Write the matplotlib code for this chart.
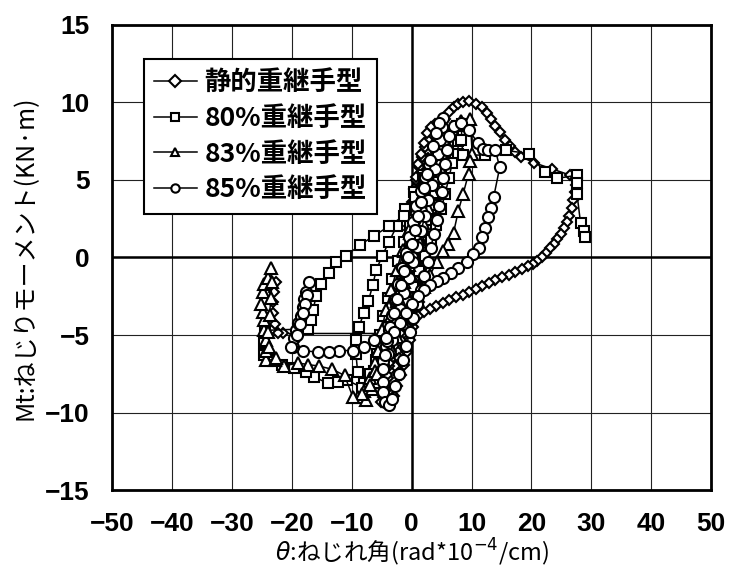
import numpy as np
import matplotlib
matplotlib.use('Agg')
import matplotlib.pyplot as plt

plt.rcParams['font.family'] = ['Noto Sans CJK JP', 'DejaVu Sans']
plt.rcParams['mathtext.fontset'] = 'dejavusans'

# 凡例ラベル
labels = ['静的重継手型', '80%重継手型', '83%重継手型', '85%重継手型']

# 静的重継手型 (θ, Mt)
static_pts = [
    (0, 0), (0.4, 0.8), (0.8, 1.6), (1.2, 2.4), (1.5, 3.2), (1.8, 4.0), (2.1, 4.8), (2.4, 5.6), (2.7, 6.4),
    (2.2, 6.0), (1.7, 5.4), (1.2, 4.7), (0.8, 3.9), (0.4, 3.1), (0.1, 2.3), (-0.2, 1.5), (-0.5, 0.7),
    (-0.8, -0.1), (-1.1, -0.9), (-1.4, -1.7), (-1.7, -2.5), (-2.0, -3.3), (-2.3, -4.1), (-2.6, -4.9),
    (-2.9, -5.7), (-3.2, -6.5), (-3.5, -7.2),
    (-2.8, -7.0), (-2.1, -6.5), (-1.5, -5.8), (-0.9, -5.0), (-0.4, -4.2), (0.1, -3.4), (0.6, -2.6),
    (1.0, -1.8), (1.4, -1.0), (1.7, -0.2), (2.0, 0.6), (2.3, 1.4), (2.5, 2.2), (2.7, 3.0), (2.9, 3.8),
    (3.1, 4.6), (3.3, 5.4), (3.5, 6.2), (3.7, 7.0), (4.0, 7.8),
    (3.4, 7.9), (2.8, 7.6), (2.2, 7.1), (1.7, 6.5), (1.2, 5.8), (0.8, 5.0), (0.5, 4.2), (0.2, 3.4),
    (-0.1, 2.6), (-0.4, 1.8), (-0.7, 1.0), (-1.0, 0.2), (-1.3, -0.6), (-1.6, -1.4), (-1.9, -2.2),
    (-2.2, -3.0), (-2.5, -3.8), (-2.8, -4.6), (-3.1, -5.4), (-3.4, -6.2), (-3.7, -7.0), (-4.0, -7.8),
    (-4.3, -8.5), (-4.6, -9.0),
    (-3.9, -9.1), (-3.2, -8.8), (-2.6, -8.2), (-2.0, -7.5), (-1.4, -6.8), (-0.9, -6.0), (-0.4, -5.2),
    (0.1, -4.4), (0.6, -3.6), (1.0, -2.8), (1.4, -2.0), (1.8, -1.2), (2.1, -0.4), (2.4, 0.4), (2.6, 1.2),
    (2.8, 2.0), (3.0, 2.8), (3.2, 3.6), (3.4, 4.4), (3.6, 5.2), (3.8, 6.0), (4.0, 6.8), (4.3, 7.6), (4.6, 8.3),
    (3.9, 8.6), (3.2, 8.4), (2.6, 8.0), (2.0, 7.4), (1.5, 6.7), (1.1, 6.0), (0.7, 5.2), (0.4, 4.4),
    (0.1, 3.6), (-0.2, 2.8), (-0.5, 2.0), (-0.8, 1.2), (-1.1, 0.4), (-1.4, -0.4), (-1.7, -1.2),
    (-2.0, -2.0), (-2.3, -2.8), (-2.6, -3.6), (-2.9, -4.4), (-3.2, -5.2), (-3.5, -6.0), (-3.8, -6.8),
    (-4.1, -7.6), (-4.4, -8.3), (-4.8, -9.0), (-5.1, -9.3),
    (-4.4, -9.4), (-3.7, -9.3), (-3.0, -8.9), (-2.4, -8.3), (-1.8, -7.6), (-1.2, -6.9), (-0.7, -6.1),
    (-0.2, -5.3), (0.3, -4.5), (0.8, -3.7), (1.2, -2.9), (1.6, -2.1), (2.0, -1.3), (2.3, -0.5), (2.6, 0.3),
    (2.9, 1.1), (3.1, 1.9), (3.3, 2.7), (3.5, 3.5), (3.7, 4.3), (3.9, 5.1), (4.1, 5.9), (4.3, 6.7),
    (4.6, 7.5), (5.0, 8.3), (5.5, 8.9), (6.2, 9.4), (7.0, 9.7), (7.8, 9.9), (8.6, 10.0), (9.5, 10.1),
    (10.7, 9.9), (11.8, 9.7), (12.6, 9.3), (13.3, 8.9), (14.0, 8.5), (14.8, 8.1), (15.6, 7.6), (16.4, 7.2),
    (17.3, 6.8), (18.2, 6.5), (20.5, 6.1), (23.5, 5.7), (26.5, 5.3), (27.5, 5.1),
    (27.4, 4.7), (27.2, 4.2), (27.0, 3.7), (26.7, 3.2), (26.3, 2.7), (25.9, 2.3), (25.4, 1.9), (24.9, 1.5),
    (24.3, 1.2), (23.7, 0.9), (23.1, 0.6), (22.4, 0.3), (21.7, 0.0), (21.0, -0.2), (20.3, -0.4),
    (19.5, -0.55), (18.4, -0.73), (17.3, -0.92), (16.2, -1.1), (15.1, -1.28), (14.0, -1.47), (12.9, -1.65),
    (11.8, -1.83), (10.7, -2.02), (9.6, -2.2), (8.5, -2.39), (7.4, -2.57), (6.3, -2.75), (5.2, -2.94),
    (4.1, -3.12), (3.0, -3.31), (2.0, -3.5), (1.1, -3.8), (0.2, -4.1), (-0.8, -4.5), (-1.9, -4.9),
    (-21.5, -4.9), (-22.3, -4.9), (-22.8, -4.3), (-23.1, -3.6), (-23.1, -2.9), (-23.0, -2.2), (-22.7, -1.6),
]

# 80%重継手型
r80_pts = [
    (0, 0), (1.0, 1.5), (2.0, 3.0), (3.0, 4.3), (4.0, 5.5), (5.0, 6.5),
    (4.3, 5.6), (3.6, 4.6), (2.8, 3.5), (2.0, 2.4), (1.2, 1.3), (0.4, 0.2), (-0.5, -0.9), (-1.4, -2.0),
    (-2.4, -3.1), (-3.4, -4.2), (-4.4, -5.3), (-5.4, -6.4), (-6.3, -7.3),
    (-5.8, -6.2), (-5.3, -5.0), (-4.7, -3.8), (-4.0, -2.6), (-3.2, -1.4), (-2.3, -0.2), (-1.3, 1.0),
    (-0.2, 2.2), (0.9, 3.4), (2.0, 4.6), (3.1, 5.7), (4.2, 6.7), (5.3, 7.5), (6.3, 8.1),
    (6.0, 7.3), (5.5, 6.4), (4.9, 5.4), (4.2, 4.4), (3.5, 3.4), (2.7, 2.4), (1.8, 1.4), (0.9, 0.4),
    (0.0, -0.6), (-1.0, -1.6), (-2.0, -2.6), (-3.0, -3.6), (-4.0, -4.6), (-5.0, -5.6), (-6.0, -6.6),
    (-7.0, -7.5), (-8.0, -8.1),
    (-9.0, -7.4), (-9.3, -6.2), (-9.3, -5.3), (-8.8, -4.5), (-8.0, -3.6), (-7.2, -2.8), (-6.5, -1.8),
    (-5.9, -0.8), (-4.9, 0.1), (-3.8, 1.0), (-2.5, 2.0), (-1.1, 3.1), (0.4, 4.2), (1.9, 5.3), (3.4, 6.3),
    (4.9, 7.3), (6.3, 8.0), (7.6, 8.5),
    (7.8, 7.5), (7.7, 6.7), (6.8, 6.1), (6.2, 5.1), (5.6, 4.1), (4.9, 3.1), (4.1, 2.1), (3.2, 1.1),
    (2.3, 0.1), (1.3, -0.9), (0.3, -1.9), (-0.7, -2.9), (-1.7, -3.9), (-2.7, -4.9), (-3.7, -5.9),
    (-4.7, -6.8), (-5.8, -7.6), (-7.0, -8.2), (-8.2, -8.4),
    (-10.8, -7.9), (-12.3, -8.0), (-14.0, -8.1), (-16.3, -7.7), (-17.7, -7.4), (-19.7, -7.1),
    (-21.7, -6.9), (-23.3, -6.6), (-24.6, -6.3), (-24.7, -5.5), (-24.5, -4.7),
    (-17.3, -4.6), (-16.8, -4.0), (-16.5, -3.4), (-15.9, -2.5), (-15.2, -1.7), (-13.8, -1.0),
    (-12.7, -0.3), (-11.0, 0.1), (-8.6, 0.8), (-6.3, 1.4), (-3.8, 2.0), (-1.3, 2.7), (0.5, 3.9),
    (2.2, 5.1), (3.8, 6.2), (5.4, 7.2), (6.9, 8.0), (8.4, 8.6), (8.3, 7.6), (8.6, 6.6),
    (12.3, 6.6), (15.7, 6.9), (19.6, 6.7), (22.2, 5.5), (24.3, 5.1), (27.6, 5.3), (27.6, 4.8),
    (27.6, 4.1), (28.2, 2.2), (28.7, 1.7), (29.0, 1.3),
]

# 83%重継手型
r83_pts = [
    (0, 0), (1.0, 1.5), (2.0, 3.0), (3.0, 4.5), (4.0, 5.8), (5.0, 7.0),
    (4.3, 6.1), (3.5, 5.0), (2.7, 3.9), (1.9, 2.8), (1.1, 1.7), (0.3, 0.6), (-0.5, -0.5), (-1.3, -1.6),
    (-2.1, -2.7), (-2.9, -3.8), (-3.7, -4.9), (-4.5, -6.0), (-5.3, -7.1), (-6.0, -8.0),
    (-5.5, -6.8), (-5.0, -5.6), (-4.4, -4.4), (-3.7, -3.2), (-3.0, -2.0), (-2.2, -0.8), (-1.3, 0.4),
    (-0.3, 1.6), (0.7, 2.8), (1.7, 4.0), (2.7, 5.2), (3.7, 6.3), (4.7, 7.3), (5.7, 8.1),
    (5.3, 7.2), (4.8, 6.2), (4.2, 5.2), (3.5, 4.2), (2.7, 3.2), (1.9, 2.2), (1.1, 1.2), (0.2, 0.2),
    (-0.7, -0.8), (-1.6, -1.8), (-2.5, -2.8), (-3.4, -3.8), (-4.3, -4.8), (-5.2, -5.8), (-6.1, -6.8),
    (-7.0, -7.8), (-7.9, -8.6), (-9.0, -9.0),
    (-7.6, -9.2), (-6.6, -8.5), (-6.1, -7.3), (-5.6, -6.0), (-5.0, -4.7), (-4.3, -3.4), (-3.4, -2.1),
    (-2.5, -0.8), (-1.5, 0.5), (-0.4, 1.8), (0.8, 3.1), (2.0, 4.4), (3.2, 5.6), (4.4, 6.7), (5.6, 7.6),
    (6.8, 8.3), (8.2, 8.8), (9.8, 8.9),
    (10.1, 6.7), (9.8, 6.2), (9.5, 5.4), (8.6, 4.1), (7.8, 3.0), (7.0, 1.6), (6.1, 0.9), (5.2, 0.4),
    (4.2, -0.3), (3.1, -1.1), (2.0, -1.9), (0.9, -2.7), (-0.2, -3.5), (-1.3, -4.3), (-2.4, -5.1),
    (-3.5, -5.9), (-4.6, -6.7), (-5.8, -7.5), (-7.0, -8.2), (-8.3, -8.8), (-9.8, -9.0),
    (-11.2, -7.6), (-13.3, -7.2), (-15.5, -7.0), (-17.3, -6.9), (-19.0, -6.8), (-21.3, -7.0),
    (-22.8, -6.6), (-24.3, -6.6), (-24.3, -6.0), (-24.3, -5.3), (-24.7, -4.7), (-24.7, -4.0),
    (-24.8, -3.5), (-25.2, -3.0), (-24.8, -2.2), (-24.7, -1.7), (-24.0, -1.3), (-23.5, -0.7),
    (-23.3, -1.6), (-23.5, -2.6), (-23.7, -3.7), (-23.9, -4.8), (-23.8, -5.8), (-22.7, -6.5),
]

# 85%重継手型
r85_pts = [
    (0, 0), (0.8, 1.5), (1.5, 3.0), (2.2, 4.5), (2.9, 6.0),
    (2.2, 5.2), (1.5, 4.3), (0.8, 3.3), (0.2, 2.3), (-0.4, 1.3), (-1.0, 0.3), (-1.6, -0.7), (-2.2, -1.7),
    (-2.8, -2.7), (-3.3, -3.7), (-3.8, -4.7), (-4.3, -5.7), (-4.7, -6.7),
    (-4.0, -6.2), (-3.3, -5.3), (-2.6, -4.3), (-1.9, -3.3), (-1.2, -2.3), (-0.5, -1.3), (0.2, -0.3),
    (0.9, 0.7), (1.6, 1.7), (2.2, 2.7), (2.8, 3.7), (3.4, 4.7), (3.9, 5.7), (4.4, 6.7), (4.8, 7.6),
    (5.1, 8.4), (5.3, 9.0),
    (4.6, 8.7), (4.0, 8.0), (3.5, 7.2), (3.0, 6.3), (2.5, 5.4), (2.0, 4.5), (1.5, 3.6), (1.0, 2.7),
    (0.5, 1.8), (0.0, 0.9), (-0.6, 0.0), (-1.2, -0.9), (-1.8, -1.8), (-2.4, -2.7), (-3.0, -3.6),
    (-3.6, -4.5), (-4.1, -5.4), (-4.5, -6.3), (-4.7, -7.2), (-4.8, -8.0), (-4.8, -8.7), (-4.5, -9.3),
    (-3.8, -9.5),
    (-3.2, -9.1), (-2.7, -8.3), (-2.1, -7.5), (-1.5, -6.6), (-0.9, -5.7), (-0.3, -4.8), (0.3, -3.9),
    (0.9, -3.0), (1.5, -2.1), (2.1, -1.2), (2.7, -0.3), (3.2, 0.6), (3.7, 1.5), (4.2, 2.4), (4.6, 3.3),
    (5.0, 4.2), (5.3, 5.1), (5.6, 6.0), (5.9, 6.9), (6.3, 7.8), (7.0, 8.5), (8.2, 8.7),
    (9.6, 8.2), (11.0, 7.4), (11.9, 7.0), (12.8, 6.9), (14.0, 6.9), (14.7, 5.8), (13.7, 3.9), (13.2, 3.2),
    (12.8, 2.6), (12.3, 1.9), (11.8, 1.3), (11.2, 0.6), (10.3, 0.2), (9.3, -0.3), (7.8, -0.7),
    (6.5, -1.0), (5.3, -1.3), (4.2, -1.5), (3.1, -1.8), (2.0, -2.1), (1.0, -2.5), (0.0, -3.0),
    (-1.0, -3.6), (-2.0, -4.2), (-3.0, -4.8), (-4.2, -5.2), (-6.3, -5.3), (-8.0, -5.8), (-9.8, -6.0),
    (-12.2, -6.0), (-13.8, -6.1), (-15.7, -6.1), (-18.2, -6.0), (-19.8, -5.8), (-19.7, -5.2),
    (-19.3, -4.7), (-18.9, -4.2), (-18.5, -3.8), (-18.2, -3.2), (-17.9, -2.7), (-17.7, -2.2),
    (-17.2, -1.6), (-17.5, -2.4), (-17.8, -3.0), (-18.2, -3.6), (-18.7, -4.3), (-19.2, -5.0), (-20.1, -5.8),
]

series = [static_pts, r80_pts, r83_pts, r85_pts]
markers = ['D', 's', '^', 'o']
msizes = [5, 7.5, 8, 8]

fig = plt.figure(figsize=(7.37, 5.76), dpi=100)
ax = fig.add_axes([0.152, 0.149, 0.813, 0.808])

for pts, lab, mk, ms in zip(series, labels, markers, msizes):
    xy = np.array(pts)
    ax.plot(xy[:, 0], xy[:, 1], color='black', lw=1.1, marker=mk, ms=ms,
            mfc='white', mec='black', mew=1.5, label=lab)

ax.set_xlim(-50, 50)
ax.set_ylim(-15, 15)
ax.set_xticks(np.arange(-50, 51, 10))
ax.set_yticks(np.arange(-15, 16, 5))
ax.grid(True, color='#222222', lw=0.8)
ax.set_axisbelow(True)
ax.axhline(0, color='black', lw=1.8, zorder=1.5)
ax.axvline(0, color='black', lw=1.8, zorder=1.5)
for s in ax.spines.values():
    s.set_linewidth(2.0)

ax.tick_params(length=0)
ax.tick_params(axis='x', pad=16)
ax.tick_params(axis='y', pad=16)
for t in ax.get_xticklabels() + ax.get_yticklabels():
    t.set_fontfamily('Liberation Sans')
    t.set_fontweight('bold')
    t.set_fontsize(19)

ax.set_xlabel(r'$\theta$:ねじれ角(rad*10$^{-4}$/cm)', fontsize=17, labelpad=0)
ax.set_ylabel('Mt:ねじりモーメント(KN·m)', fontsize=18, labelpad=5)

leg = ax.legend(loc='upper left', bbox_to_anchor=(0.053, 0.927), borderaxespad=0,
                fancybox=False, edgecolor='black', framealpha=1, handlelength=1.6,
                handletextpad=0.3, labelspacing=0.33, borderpad=0.4,
                prop={'family': 'Noto Sans CJK JP', 'weight': 'bold', 'size': 19})
leg.get_frame().set_linewidth(1.5)
for h in leg.get_lines():
    h.set_markersize(6)

fig.savefig('out.png', dpi=100)
